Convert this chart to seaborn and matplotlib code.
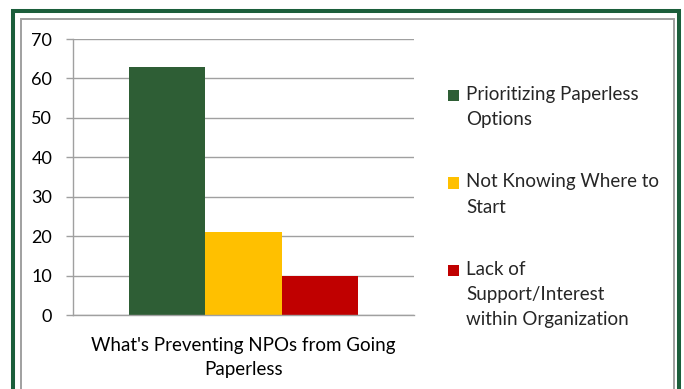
import matplotlib
matplotlib.use("Agg")
import matplotlib.pyplot as plt
import seaborn as sns
import pandas as pd
from matplotlib.patches import Rectangle
from matplotlib.legend_handler import HandlerPatch

category = ["What's Preventing NPOs from Going\nPaperless"]
series = ["Prioritizing Paperless\nOptions", "Not Knowing Where to\nStart",
          "Lack of\nSupport/Interest\nwithin Organization"]
values = [63, 21, 10]
colors = ["#2E5E35", "#FFC000", "#C00000"]
yticks = [0, 10, 20, 30, 40, 50, 60, 70]

df = pd.DataFrame({"cat": category * len(series), "series": series, "value": values})

sns.set_theme(style="white")
plt.rcParams["font.family"] = ["Lato", "DejaVu Sans"]

W, H = 684, 389
fig = plt.figure(figsize=(W / 100, H / 100), dpi=100)
ax = fig.add_axes([73 / W, 1 - 315 / H, (414 - 73) / W, (315 - 39) / H])

sns.barplot(data=df, x="cat", y="value", hue="series", palette=colors,
            width=0.67, gap=0, saturation=1, ax=ax, legend=True,
            edgecolor="none", linewidth=0)

FS = 13.5
ax.set_ylim(0, 70)
ax.set_yticks(yticks)
ax.set_xlim(-0.5, 0.5)
ax.yaxis.grid(True, color="#A0A0A0", linewidth=1)
ax.set_axisbelow(True)
for s in ["top", "right"]:
    ax.spines[s].set_visible(False)
for s in ["left", "bottom"]:
    ax.spines[s].set_color("#A0A0A0")
    ax.spines[s].set_linewidth(1)
ax.tick_params(axis="y", length=5, width=1, color="#A0A0A0", labelsize=13,
               labelcolor="black", pad=10, left=True)
ax.tick_params(axis="x", length=0, labelsize=FS, labelcolor="black", pad=16)
ax.set_xlabel("")
ax.set_ylabel("")
for lab in ax.get_xticklabels():
    lab.set_linespacing(1.48)

SQ = 8.0  # square side in points


def square(legend, orig_handle, xdescent, ydescent, width, height, fontsize):
    return Rectangle((-xdescent, -ydescent), SQ, SQ)


handles, labels = ax.get_legend_handles_labels()
leg = ax.legend(handles, labels, loc="upper left", bbox_to_anchor=(448 / W, 1 - 86 / H),
                bbox_transform=fig.transFigure, frameon=False, fontsize=FS,
                handlelength=SQ / FS, handleheight=(SQ + 3.6) / FS, handletextpad=0.38,
                labelspacing=2.42, borderaxespad=0, borderpad=0,
                handler_map={h: HandlerPatch(patch_func=square) for h in handles})
for t in leg.get_texts():
    t.set_linespacing(1.58)
for col in leg._legend_handle_box.get_children():
    for hp in col.get_children():
        hp.align = "top"

fig.patches.append(Rectangle((13 / W, -0.05), (679 - 13) / W, (H - 11) / H + 0.05,
                             transform=fig.transFigure, fill=False,
                             edgecolor="#1B5E3B", linewidth=2.9, zorder=10))
fig.patches.append(Rectangle((21 / W, -0.05), (674 - 21) / W, (H - 19) / H + 0.05,
                             transform=fig.transFigure, fill=False,
                             edgecolor="#A0A0A0", linewidth=1.4, zorder=10))

fig.savefig("out.png", dpi=100)
